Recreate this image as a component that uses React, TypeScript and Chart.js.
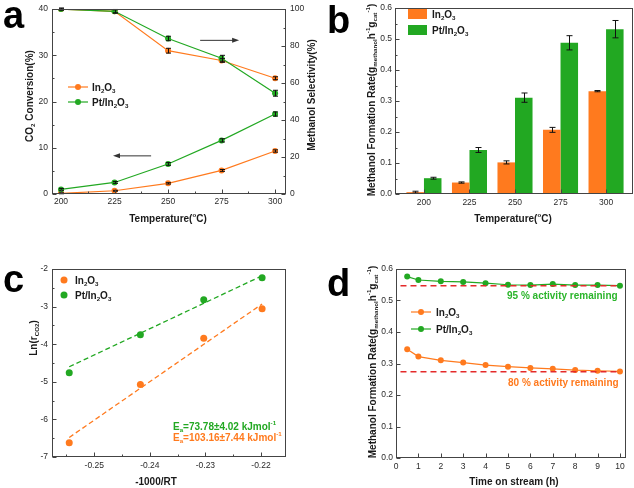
import React, { useEffect, useRef } from 'react';
import { Chart, registerables } from 'chart.js';
Chart.register(...registerables);

const FONT = '"Liberation Sans", Arial, Helvetica, sans-serif';
const ORANGE = '#FF7A1E';
const GREEN = '#22A822';
const RED = '#E42A2A';
const TXT = '#1a1a1a';
const TICK = '#2a2a2a';

// ---------- Panel a ----------
const tempA = [200, 225, 250, 275, 300];
const convIn2O3 = [0.15, 0.7, 2.3, 5.1, 9.3];
const convIn2O3Err = [0.1, 0.1, 0.15, 0.2, 0.25];
const convPt = [1.0, 2.5, 6.5, 11.6, 17.3];
const convPtErr = [0.2, 0.2, 0.3, 0.35, 0.45];
const selIn2O3 = [100, 98.8, 77.5, 72.2, 62.6];
const selIn2O3Err = [0.5, 0.8, 1.3, 1.0, 0.8];
const selPt = [100, 98.8, 84.1, 73.4, 54.5];
const selPtErr = [0.5, 1.0, 1.2, 1.6, 1.6];
const aXTicks = [200, 225, 250, 275, 300];
const aXMinor = [212.5, 237.5, 262.5, 287.5];
const aYTicks = [0, 10, 20, 30, 40];
const aYMinor = [5, 15, 25, 35];
const aY2Ticks = [0, 20, 40, 60, 80, 100];
const aY2Minor = [10, 30, 50, 70, 90];

// ---------- Panel b ----------
const tempB = [200, 225, 250, 275, 300];
const rateIn2O3 = [0.006, 0.037, 0.102, 0.207, 0.332];
const rateIn2O3Err = [0.003, 0.002, 0.005, 0.008, 0.002];
const ratePt = [0.051, 0.142, 0.311, 0.488, 0.532];
const ratePtErr = [0.003, 0.008, 0.015, 0.023, 0.028];
const bXTicks = [200, 225, 250, 275, 300];
const bYTicks = [0, 0.1, 0.2, 0.3, 0.4, 0.5, 0.6];
const bYMinor = [0.05, 0.15, 0.25, 0.35, 0.45, 0.55];

// ---------- Panel c ----------
const invRT = [-0.2545, -0.2417, -0.2303, -0.2198];
const lnIn2O3 = [-6.62, -5.07, -3.84, -3.06];
const lnPt = [-4.76, -3.75, -2.82, -2.23];
const fitX = [-0.2545, -0.2198];
const fitIn2O3 = [-6.48, -2.93];
const fitPt = [-4.6, -2.18];
const cXTicks = [-0.25, -0.24, -0.23, -0.22];
const cXMinor = [-0.255, -0.245, -0.235, -0.225];
const cYTicks = [-7, -6, -5, -4, -3, -2];
const cYMinor = [-6.5, -5.5, -4.5, -3.5, -2.5];

// ---------- Panel d ----------
const timeD = [0.5, 1, 2, 3, 4, 5, 6, 7, 8, 9, 10];
const stabIn2O3 = [0.345, 0.322, 0.31, 0.303, 0.295, 0.29, 0.286, 0.283, 0.279, 0.277, 0.275];
const stabPt = [0.576, 0.565, 0.561, 0.559, 0.555, 0.55, 0.549, 0.552, 0.549, 0.549, 0.547];
const refX = [0.2, 10];
const refPt = [0.547, 0.547];
const refIn2O3 = [0.274, 0.274];
const dXTicks = [0, 1, 2, 3, 4, 5, 6, 7, 8, 9, 10];
const dYTicks = [0, 0.1, 0.2, 0.3, 0.4, 0.5, 0.6];

// ---------- helpers ----------
type Seg = [string, string?];
const fontStr = (s: number, w: string) => `${w} ${s}px ${FONT}`;

function drawRich(ctx: CanvasRenderingContext2D, segs: Seg[], x: number, y: number, size: number, color: string, align = 'center', rotate = false, weight = 'bold') {
  ctx.save();
  ctx.translate(x, y);
  if (rotate) ctx.rotate(-Math.PI / 2);
  const parts = segs.map(([t, k]) => {
    const s = k ? size * 0.62 : size;
    ctx.font = fontStr(s, weight);
    return { t, k, s, w: ctx.measureText(t).width };
  });
  const total = parts.reduce((a, p) => a + p.w, 0);
  let cx = align === 'center' ? -total / 2 : 0;
  ctx.fillStyle = color;
  ctx.textBaseline = 'alphabetic';
  ctx.textAlign = 'left';
  const base = size * 0.36;
  for (const p of parts) {
    ctx.font = fontStr(p.s, weight);
    const dy = p.k === 'b' ? base + size * 0.22 : p.k === 'p' ? base - size * 0.42 : base;
    ctx.fillText(p.t, cx, dy);
    cx += p.w;
  }
  ctx.restore();
}

type TickSpec = { id: string; side: 'bottom' | 'left' | 'right'; major: number[]; minor: number[] };
function drawFrame(chart: any, specs: TickSpec[]) {
  const { ctx } = chart;
  const { left, right, top, bottom } = chart.chartArea;
  const L = Math.round(left) + 0.5, R = Math.round(right) - 0.5, T = Math.round(top) + 0.5, B = Math.round(bottom) - 0.5;
  ctx.save();
  ctx.strokeStyle = '#444';
  ctx.lineWidth = 1;
  ctx.strokeRect(L, T, R - L, B - T);
  ctx.beginPath();
  for (const s of specs) {
    const sc = chart.scales[s.id];
    const put = (v: number, len: number) => {
      const p = Math.round(sc.getPixelForValue(v)) + 0.5;
      if (s.side === 'bottom') { ctx.moveTo(p, B); ctx.lineTo(p, B - len); }
      else if (s.side === 'left') { ctx.moveTo(L, p); ctx.lineTo(L + len, p); }
      else { ctx.moveTo(R, p); ctx.lineTo(R - len, p); }
    };
    s.major.forEach((v) => put(v, 4));
    s.minor.forEach((v) => put(v, 2));
  }
  ctx.stroke();
  ctx.restore();
}

function drawErrors(chart: any, dsIndex: number, errs: number[], cap: number) {
  const { ctx } = chart;
  const meta = chart.getDatasetMeta(dsIndex);
  const ds = chart.data.datasets[dsIndex];
  const ys = chart.scales[meta.yAxisID];
  ctx.save();
  ctx.strokeStyle = '#111';
  ctx.lineWidth = 1;
  ctx.beginPath();
  meta.data.forEach((el: any, i: number) => {
    const v = ds.data[i].y;
    const y1 = ys.getPixelForValue(v + errs[i]);
    const y2 = ys.getPixelForValue(v - errs[i]);
    const x = Math.round(el.x) + 0.5;
    ctx.moveTo(x, y1); ctx.lineTo(x, y2);
    ctx.moveTo(x - cap, y1); ctx.lineTo(x + cap, y1);
    ctx.moveTo(x - cap, y2); ctx.lineTo(x + cap, y2);
  });
  ctx.stroke();
  ctx.restore();
}

function drawArrow(ctx: CanvasRenderingContext2D, x1: number, y: number, x2: number) {
  const dir = x2 > x1 ? 1 : -1;
  ctx.save();
  ctx.strokeStyle = '#333';
  ctx.fillStyle = '#333';
  ctx.lineWidth = 1;
  ctx.beginPath();
  ctx.moveTo(x1, y); ctx.lineTo(x2 - dir * 5, y);
  ctx.stroke();
  ctx.beginPath();
  ctx.moveTo(x2, y); ctx.lineTo(x2 - dir * 7, y - 2.5); ctx.lineTo(x2 - dir * 7, y + 2.5);
  ctx.closePath();
  ctx.fill();
  ctx.restore();
}

function drawLetter(ctx: CanvasRenderingContext2D, t: string, x: number, y: number) {
  ctx.save();
  ctx.font = fontStr(38, 'bold');
  ctx.fillStyle = '#000';
  ctx.textBaseline = 'alphabetic';
  ctx.textAlign = 'left';
  ctx.fillText(t, x, y);
  ctx.restore();
}

function lineLegend(ctx: CanvasRenderingContext2D, x1: number, x2: number, y: number, color: string, segs: Seg[], tx: number, withLine = true) {
  ctx.save();
  if (withLine) {
    ctx.strokeStyle = color; ctx.lineWidth = 1.2;
    ctx.beginPath(); ctx.moveTo(x1, y); ctx.lineTo(x2, y); ctx.stroke();
  }
  ctx.fillStyle = color;
  ctx.beginPath(); ctx.arc((x1 + x2) / 2, y, 3, 0, Math.PI * 2); ctx.fill();
  ctx.restore();
  drawRich(ctx, segs, tx, y, 10, TXT, 'left');
}

function mkAxis(min: number, max: number, tickVals: number[], dec: number, fit: number, horizontal: boolean, position: string, pad: number) {
  return {
    type: 'linear',
    position,
    min,
    max,
    offset: false,
    grid: { display: false, drawTicks: false },
    border: { display: false },
    ticks: {
      font: { family: FONT, size: 8.5 },
      color: TICK,
      padding: pad,
      maxRotation: 0,
      minRotation: 0,
      autoSkip: false,
      callback: (v: any) => Number(v).toFixed(dec),
    },
    afterBuildTicks: (s: any) => { s.ticks = tickVals.map((v) => ({ value: v })); },
    afterFit: (s: any) => { if (horizontal) s.height = fit; else s.width = fit; },
  };
}

const baseOpts = (padding: any, scales: any) => ({
  responsive: false,
  animation: false,
  devicePixelRatio: 1,
  layout: { padding },
  plugins: { legend: { display: false }, tooltip: { enabled: false } },
  scales,
});

const IN2O3: Seg[] = [['In'], ['2', 'b'], ['O'], ['3', 'b']];
const PTIN2O3: Seg[] = [['Pt/In'], ['2', 'b'], ['O'], ['3', 'b']];
const TEMP_TITLE: Seg[] = [['Temperature('], ['o', 'p'], ['C)']];
const RATE_TITLE: Seg[] = [['Methanol Formation Rate(g'], ['methanol', 'b'], ['h'], ['-1', 'p'], ['g'], ['cat', 'b'], ['-1', 'p'], [')']];

const pts = (xs: number[], ys: number[]) => xs.map((x, i) => ({ x, y: ys[i] }));

function makeA(): any {
  const line = (data: any, color: string, axis: string) => ({
    data, yAxisID: axis, showLine: true, borderColor: color, backgroundColor: color,
    borderWidth: 1.2, pointRadius: 3, pointBorderWidth: 0, pointHoverRadius: 3,
  });
  return {
    type: 'scatter',
    data: {
      datasets: [
        line(pts(tempA, selPt), GREEN, 'y2'),
        line(pts(tempA, convPt), GREEN, 'y'),
        line(pts(tempA, selIn2O3), ORANGE, 'y2'),
        line(pts(tempA, convIn2O3), ORANGE, 'y'),
      ],
    },
    options: baseOpts({ top: 5, left: 0, right: 0, bottom: 0 }, {
      x: mkAxis(195.8, 305.1, aXTicks, 0, 50, true, 'bottom', 3),
      y: mkAxis(0, 40, aYTicks, 0, 52, false, 'left', 4),
      y2: mkAxis(0, 100, aY2Ticks, 0, 31, false, 'right', 4),
    }),
    plugins: [{
      id: 'decoA',
      afterDatasetsDraw(chart: any) {
        const ctx = chart.ctx;
        drawErrors(chart, 0, selPtErr, 2.5);
        drawErrors(chart, 1, convPtErr, 2.5);
        drawErrors(chart, 2, selIn2O3Err, 2.5);
        drawErrors(chart, 3, convIn2O3Err, 2.5);
        drawFrame(chart, [
          { id: 'x', side: 'bottom', major: aXTicks, minor: aXMinor },
          { id: 'y', side: 'left', major: aYTicks, minor: aYMinor },
          { id: 'y2', side: 'right', major: aY2Ticks, minor: aY2Minor },
        ]);
        const sx = chart.scales.x, sy = chart.scales.y, sy2 = chart.scales.y2;
        drawArrow(ctx, sx.getPixelForValue(265), sy2.getPixelForValue(83.1), sx.getPixelForValue(283.2));
        drawArrow(ctx, sx.getPixelForValue(242.1), sy.getPixelForValue(8.25), sx.getPixelForValue(224.3));
        lineLegend(ctx, 68, 88, 87, ORANGE, IN2O3, 92);
        lineLegend(ctx, 68, 88, 102, GREEN, PTIN2O3, 92);
        drawRich(ctx, [['CO'], ['2', 'b'], [' Conversion(%)']], 29, 96, 10, TXT, 'center', true);
        drawRich(ctx, [['Methanol Selectivity(%)']], 311, 95, 10, TXT, 'center', true);
        drawRich(ctx, TEMP_TITLE, 168, 218, 10, TXT, 'center');
        drawLetter(ctx, 'a', 3, 28);
      },
    }],
  };
}

function makeB(): any {
  const bar = (data: any, color: string) => ({
    data, backgroundColor: color, borderWidth: 0, categoryPercentage: 0.77, barPercentage: 1.0,
  });
  return {
    type: 'bar',
    data: { datasets: [bar(pts(tempB, rateIn2O3), ORANGE), bar(pts(tempB, ratePt), GREEN)] },
    options: baseOpts({ top: 5, left: 0, right: 1, bottom: 0 }, {
      x: mkAxis(184.1, 314.8, bXTicks, 0, 50, true, 'bottom', 4),
      y: mkAxis(0, 0.6, bYTicks, 1, 78, false, 'left', 3),
    }),
    plugins: [{
      id: 'decoB',
      afterDatasetsDraw(chart: any) {
        const ctx = chart.ctx;
        drawErrors(chart, 0, rateIn2O3Err, 3);
        drawErrors(chart, 1, ratePtErr, 3);
        drawFrame(chart, [
          { id: 'x', side: 'bottom', major: bXTicks, minor: [] },
          { id: 'y', side: 'left', major: bYTicks, minor: bYMinor },
        ]);
        ctx.save();
        ctx.fillStyle = ORANGE; ctx.fillRect(91, 9, 19, 10);
        ctx.fillStyle = GREEN; ctx.fillRect(91, 25, 19, 10);
        ctx.restore();
        drawRich(ctx, IN2O3, 115, 14, 10, TXT, 'left');
        drawRich(ctx, PTIN2O3, 115, 30, 10, TXT, 'left');
        drawRich(ctx, RATE_TITLE, 54, 100, 10, TXT, 'center', true);
        drawRich(ctx, TEMP_TITLE, 196, 218, 10, TXT, 'center');
        drawLetter(ctx, 'b', 10, 33);
      },
    }],
  };
}

function makeC(): any {
  const dots = (data: any, color: string) => ({
    data, backgroundColor: color, borderColor: color, pointRadius: 3.5, pointBorderWidth: 0, showLine: false,
  });
  const fit = (data: any, color: string) => ({
    data, borderColor: color, backgroundColor: color, showLine: true, pointRadius: 0, borderWidth: 1.3, borderDash: [5, 3],
  });
  return {
    type: 'scatter',
    data: {
      datasets: [
        dots(pts(invRT, lnPt), GREEN),
        dots(pts(invRT, lnIn2O3), ORANGE),
        fit(pts(fitX, fitPt), GREEN),
        fit(pts(fitX, fitIn2O3), ORANGE),
      ],
    },
    options: baseOpts({ top: 25, left: 0, right: 31, bottom: 0 }, {
      x: mkAxis(-0.2576, -0.2155, cXTicks, 2, 31, true, 'bottom', 4),
      y: mkAxis(-7, -2, cYTicks, 0, 52, false, 'left', 4),
    }),
    plugins: [{
      id: 'decoC',
      afterDatasetsDraw(chart: any) {
        const ctx = chart.ctx;
        drawFrame(chart, [
          { id: 'x', side: 'bottom', major: cXTicks, minor: cXMinor },
          { id: 'y', side: 'left', major: cYTicks, minor: cYMinor },
        ]);
        ctx.save();
        ctx.fillStyle = ORANGE; ctx.beginPath(); ctx.arc(64, 36, 3.5, 0, Math.PI * 2); ctx.fill();
        ctx.fillStyle = GREEN; ctx.beginPath(); ctx.arc(64, 51, 3.5, 0, Math.PI * 2); ctx.fill();
        ctx.restore();
        drawRich(ctx, IN2O3, 75, 36, 10, TXT, 'left');
        drawRich(ctx, PTIN2O3, 75, 51, 10, TXT, 'left');
        drawRich(ctx, [['E'], ['a', 'b'], ['=73.78\u00b14.02 kJmol'], ['-1', 'p']], 173, 182, 10, GREEN, 'left');
        drawRich(ctx, [['E'], ['a', 'b'], ['=103.16\u00b17.44 kJmol'], ['-1', 'p']], 173, 193, 10, ORANGE, 'left');
        drawRich(ctx, [['Ln(r'], ['CO2', 'b'], [')']], 33, 94, 10, TXT, 'center', true);
        drawRich(ctx, [['-1000/RT']], 156, 237, 10, TXT, 'center');
        drawLetter(ctx, 'c', 3, 48);
      },
    }],
  };
}

function makeD(): any {
  const line = (data: any, color: string) => ({
    data, showLine: true, borderColor: color, backgroundColor: color,
    borderWidth: 1.2, pointRadius: 3, pointBorderWidth: 0,
  });
  const ref = (data: any) => ({
    data, showLine: true, borderColor: RED, borderWidth: 1.5, borderDash: [6, 4], pointRadius: 0,
  });
  return {
    type: 'scatter',
    data: {
      datasets: [
        ref(pts(refX, refPt)),
        ref(pts(refX, refIn2O3)),
        line(pts(timeD, stabPt), GREEN),
        line(pts(timeD, stabIn2O3), ORANGE),
      ],
    },
    options: baseOpts({ top: 25, left: 0, right: 8, bottom: 0 }, {
      x: mkAxis(0, 10.27, dXTicks, 0, 30, true, 'bottom', 4),
      y: mkAxis(0, 0.6, dYTicks, 1, 79, false, 'left', 3),
    }),
    plugins: [{
      id: 'decoD',
      afterDatasetsDraw(chart: any) {
        const ctx = chart.ctx;
        drawFrame(chart, [
          { id: 'x', side: 'bottom', major: dXTicks, minor: [] },
          { id: 'y', side: 'left', major: dYTicks, minor: [] },
        ]);
        lineLegend(ctx, 94, 114, 68, ORANGE, IN2O3, 119);
        lineLegend(ctx, 94, 114, 85, GREEN, PTIN2O3, 119);
        drawRich(ctx, [['95 % activity remaining']], 190, 51, 10, '#2BB52B', 'left');
        drawRich(ctx, [['80 % activity remaining']], 191, 138, 10, ORANGE, 'left');
        drawRich(ctx, RATE_TITLE, 55, 118, 10, TXT, 'center', true);
        drawRich(ctx, [['Time on stream (h)']], 197, 237, 10, TXT, 'center');
        drawLetter(ctx, 'd', 10, 52);
      },
    }],
  };
}

function Panel({ make, left, top }: { make: () => any; left: number; top: number }) {
  const ref = useRef<HTMLCanvasElement>(null);
  useEffect(() => {
    const chart = new Chart(ref.current as HTMLCanvasElement, make());
    return () => chart.destroy();
  }, []);
  return (
    <canvas ref={ref} width={317} height={244}
      style={{ position: 'absolute', left, top, width: 317, height: 244 }} />
  );
}

export default function App() {
  return (
    <div style={{ position: 'absolute', left: 0, top: 0, width: 634, height: 488, background: '#fff', overflow: 'hidden' }}>
      <Panel make={makeA} left={0} top={0} />
      <Panel make={makeB} left={317} top={0} />
      <Panel make={makeC} left={0} top={244} />
      <Panel make={makeD} left={317} top={244} />
    </div>
  );
}
